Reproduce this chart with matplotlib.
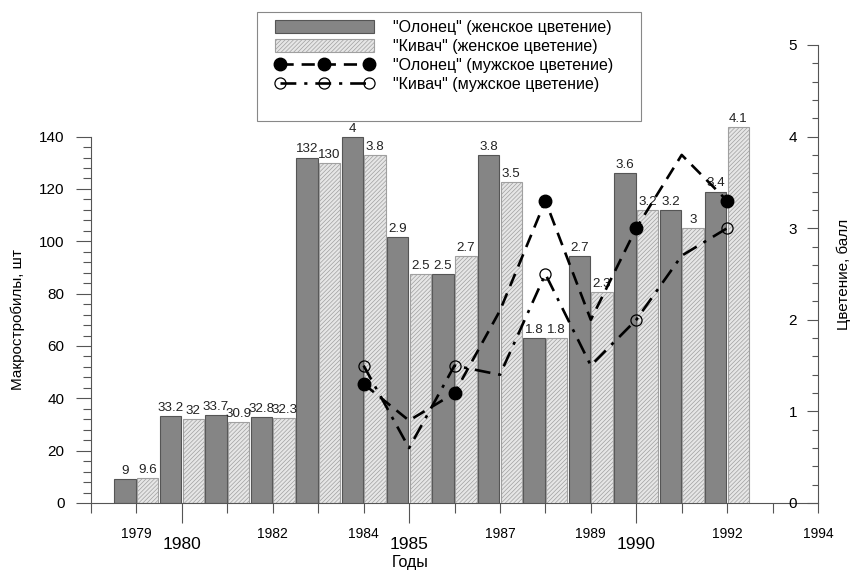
import matplotlib
matplotlib.use("Agg")
import matplotlib.pyplot as plt
from matplotlib.patches import Rectangle
from matplotlib.ticker import FixedLocator, FuncFormatter, MultipleLocator

plt.rcParams['font.family'] = ['Liberation Sans', 'DejaVu Sans']
plt.rcParams['hatch.linewidth'] = 0.5

# макростробилы, шт (1979-1983)
years_cnt = [1979, 1980, 1981, 1982, 1983]
olon_cnt = [9, 33.2, 33.7, 32.8, 132]
kiv_cnt = [9.6, 32, 30.9, 32.3, 130]

# цветение, балл (1984-1992)
years_sc = [1984, 1985, 1986, 1987, 1988, 1989, 1990, 1991, 1992]
olon_fem = [4, 2.9, 2.5, 3.8, 1.8, 2.7, 3.6, 3.2, 3.4]
kiv_fem = [3.8, 2.5, 2.7, 3.5, 1.8, 2.3, 3.2, 3, 4.1]
olon_male = [1.3, 0.9, 1.2, 2.1, 3.3, 2.0, 3.0, 3.8, 3.3]
kiv_male = [1.5, 0.6, 1.5, 1.4, 2.5, 1.5, 2.0, 2.7, 3.0]

names = ['"Олонец" (женское цветение)', '"Кивач" (женское цветение)',
         '"Олонец" (мужское цветение)', '"Кивач" (мужское цветение)']

major_years = [1980, 1985, 1990]
minor_labels = {1979: '1979', 1982: '1982', 1984: '1984', 1987: '1987',
                1989: '1989', 1992: '1992', 1994: '1994'}

dark = dict(color='#858585', edgecolor='#555555', linewidth=0.8)
light = dict(color='#e6e6e6', edgecolor='#a0a0a0', linewidth=0.8, hatch='////////')
off, w = 0.25, 0.47
grey = '#555555'

fig = plt.figure(figsize=(8.54, 5.71), dpi=100)
ax = fig.add_axes([91 / 854, 1 - 503 / 571, 727 / 854, 458 / 571])
ax2 = ax.twinx()


def put_labels(axis, xs, vals, shift):
    for x, v in zip(xs, vals):
        axis.annotate(f'{v:g}', (x + shift, v), xytext=(0, 1.5), textcoords='offset points',
                      ha='center', va='bottom', fontsize=9.6, color='#222222')


b1 = ax.bar([y - off for y in years_cnt], olon_cnt, w, **dark)
b2 = ax.bar([y + off for y in years_cnt], kiv_cnt, w, **light)
put_labels(ax, years_cnt, olon_cnt, -off)
put_labels(ax, years_cnt, kiv_cnt, off)

ax2.bar([y - off for y in years_sc], olon_fem, w, **dark)
ax2.bar([y + off for y in years_sc], kiv_fem, w, **light)
put_labels(ax2, years_sc, olon_fem, -off)
put_labels(ax2, years_sc, kiv_fem, off)

l1, = ax2.plot(years_sc, olon_male, color='black', lw=1.9, dashes=(5, 3),
               marker='o', markersize=9, markevery=2, zorder=4)
l2, = ax2.plot(years_sc, kiv_male, color='black', lw=1.9, dashes=(6, 3, 1.2, 3),
               marker='o', markersize=8, markevery=2, markerfacecolor='none',
               markeredgewidth=0.9, zorder=4)

# left axis
ax.set_xlim(1978, 1994)
ax.set_ylim(0, 175)
for s in ['top', 'right']:
    ax.spines[s].set_visible(False)
ax.spines['left'].set_bounds(0, 140)
for s in ['left', 'bottom']:
    ax.spines[s].set_color(grey)
ax.yaxis.set_major_locator(FixedLocator(range(0, 141, 20)))
ax.yaxis.set_minor_locator(FixedLocator([v for v in range(0, 141, 4) if v % 20]))
ax.tick_params(axis='y', which='major', length=11, width=0.8, color=grey,
               labelsize=11, pad=8)
ax.tick_params(axis='y', which='minor', length=6, width=0.8, color=grey)

ax.xaxis.set_major_locator(FixedLocator(major_years))
ax.xaxis.set_minor_locator(FixedLocator([y for y in range(1978, 1995) if y not in major_years]))
ax.xaxis.set_minor_formatter(FuncFormatter(lambda v, p: minor_labels.get(int(round(v)), '')))
ax.tick_params(axis='x', which='major', length=14.5, width=0.8, color=grey,
               labelsize=12.5, pad=10)
ax.tick_params(axis='x', which='minor', length=7.2, width=0.8, color=grey,
               labelsize=10, pad=10)

# right axis: spine at the right edge, ticks and labels on its inner side
ax2.set_ylim(0, 5)
ax2.yaxis.tick_left()
ax2.spines['left'].set_position(('axes', 1.0))
ax2.spines['left'].set_color(grey)
for s in ['top', 'right', 'bottom']:
    ax2.spines[s].set_visible(False)
ax2.yaxis.set_major_locator(MultipleLocator(1))
ax2.yaxis.set_minor_locator(MultipleLocator(0.2))
ax2.tick_params(axis='y', which='major', length=8, width=0.8, color=grey,
                labelsize=11, pad=7)
ax2.tick_params(axis='y', which='minor', length=4.3, width=0.8, color=grey)

fig.text(18 / 854, 1 - 320 / 571, 'Макростробилы, шт', rotation=90,
         ha='center', va='center', fontsize=11)
fig.text(844 / 854, 1 - 274 / 571, 'Цветение, балл', rotation=90,
         ha='center', va='center', fontsize=11)
fig.text(410 / 854, 1 - 562 / 571, 'Годы', ha='center', va='center', fontsize=11.5)

# legend box drawn separately, with room below the entries
fig.patches.append(Rectangle((257 / 854, 1 - 121 / 571), 384 / 854, 109 / 571,
                             transform=fig.transFigure, facecolor='white',
                             edgecolor='#888888', linewidth=0.8, zorder=5))
leg = fig.legend([b1[0], b2[0], l1, l2], names, loc='upper left',
                 bbox_to_anchor=(262 / 854, 1 - 7 / 571), fontsize=11.5,
                 numpoints=3, handlelength=6.2, handleheight=0.85,
                 handletextpad=1.2, labelspacing=0.25, borderpad=0.3,
                 frameon=False)
leg.set_zorder(6)

fig.savefig('out.png', dpi=100)
